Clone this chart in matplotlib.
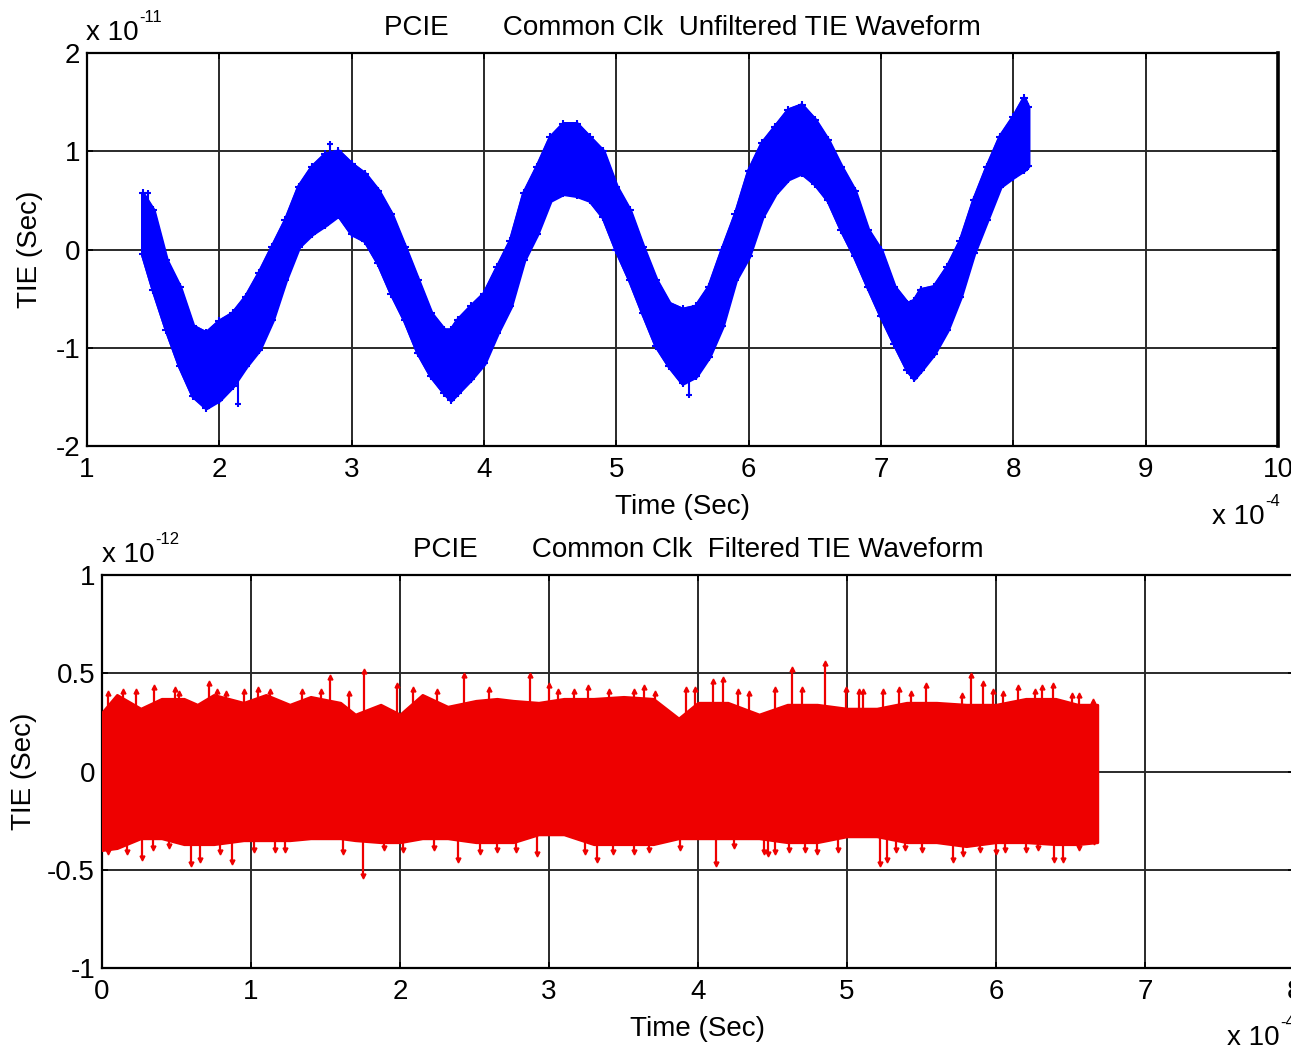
import matplotlib
matplotlib.use("Agg")
import matplotlib.pyplot as plt
import numpy as np

plt.rcParams['font.family'] = ['Liberation Sans', 'DejaVu Sans']
plt.rcParams['axes.unicode_minus'] = False

# ---------------- Data (display units: x * 1e-4 s, y * 1e-11 / 1e-12 s) ----
top_x = [1.42, 1.5, 1.6, 1.7, 1.8, 1.9, 2.0, 2.1, 2.2, 2.3, 2.4, 2.5, 2.6, 2.7,
         2.8, 2.9, 3.0, 3.1, 3.2, 3.3, 3.4, 3.5, 3.6, 3.7, 3.75, 3.8, 3.9, 4.0,
         4.1, 4.2, 4.3, 4.4, 4.5, 4.6, 4.7, 4.8, 4.9, 5.0, 5.1, 5.2, 5.3, 5.4,
         5.5, 5.6, 5.7, 5.8, 5.9, 6.0, 6.1, 6.2, 6.3, 6.4, 6.5, 6.6, 6.7, 6.8,
         6.9, 7.0, 7.1, 7.2, 7.25, 7.3, 7.4, 7.5, 7.6, 7.7, 7.8, 7.9, 8.0, 8.08, 8.11]
top_upper = [0.57, 0.40, -0.11, -0.38, -0.78, -0.85, -0.73, -0.65, -0.48, -0.24,
             0.03, 0.30, 0.64, 0.84, 0.97, 1.00, 0.87, 0.77, 0.60, 0.36, 0.03,
             -0.31, -0.65, -0.82, -0.82, -0.72, -0.58, -0.45, -0.18, 0.09, 0.57,
             0.84, 1.14, 1.28, 1.28, 1.14, 1.00, 0.64, 0.40, 0.03, -0.31, -0.55,
             -0.61, -0.58, -0.38, 0.00, 0.36, 0.80, 1.08, 1.25, 1.42, 1.47, 1.32,
             1.11, 0.84, 0.60, 0.20, -0.01, -0.38, -0.55, -0.52, -0.41, -0.38,
             -0.18, 0.09, 0.50, 0.84, 1.15, 1.35, 1.54, 1.45]
top_lower = [-0.05, -0.41, -0.82, -1.19, -1.49, -1.61, -1.53, -1.39, -1.19, -1.02,
             -0.72, -0.31, 0.03, 0.16, 0.25, 0.35, 0.16, 0.09, -0.14, -0.45, -0.72,
             -1.05, -1.29, -1.46, -1.53, -1.46, -1.32, -1.16, -0.85, -0.58, -0.11,
             0.16, 0.50, 0.57, 0.55, 0.50, 0.33, -0.01, -0.31, -0.65, -0.98, -1.19,
             -1.36, -1.29, -1.09, -0.78, -0.31, -0.07, 0.33, 0.57, 0.72, 0.78, 0.67,
             0.50, 0.20, -0.07, -0.38, -0.68, -0.96, -1.23, -1.31, -1.23, -1.06,
             -0.82, -0.48, -0.04, 0.30, 0.64, 0.74, 0.81, 0.85]
top_spike_x = [2.14, 2.84, 5.55, 1.46]
top_spike_y = [-1.57, 1.07, -1.48, 0.57]

bot_x = [0, 0.1, 0.26, 0.4, 0.55, 0.64, 0.75, 0.95, 1.1, 1.26, 1.4, 1.6, 1.7,
         1.87, 2.0, 2.15, 2.32, 2.51, 2.65, 2.76, 2.93, 3.1, 3.3, 3.5, 3.7, 3.87,
         4.0, 4.2, 4.41, 4.6, 4.8, 5.0, 5.2, 5.4, 5.6, 5.8, 6.0, 6.2, 6.4, 6.55, 6.68]
bot_upper = [0.30, 0.39, 0.32, 0.37, 0.37, 0.34, 0.39, 0.35, 0.39, 0.34, 0.38,
             0.35, 0.29, 0.34, 0.29, 0.39, 0.33, 0.36, 0.37, 0.36, 0.35, 0.37,
             0.37, 0.38, 0.37, 0.27, 0.35, 0.35, 0.29, 0.34, 0.34, 0.32, 0.32,
             0.35, 0.35, 0.34, 0.34, 0.37, 0.37, 0.34, 0.34]
bot_lower = [-0.40, -0.39, -0.34, -0.34, -0.37, -0.37, -0.37, -0.35, -0.35, -0.35,
             -0.34, -0.34, -0.35, -0.36, -0.36, -0.34, -0.34, -0.36, -0.36, -0.36,
             -0.32, -0.32, -0.37, -0.37, -0.37, -0.34, -0.34, -0.34, -0.34, -0.36,
             -0.36, -0.33, -0.33, -0.36, -0.36, -0.38, -0.36, -0.36, -0.37, -0.37, -0.36]
bot_up_spike_x = [0.35, 0.72, 1.53, 1.76, 1.98, 2.43, 2.87, 3.0, 3.26, 3.64, 3.92,
                  4.10, 4.17, 4.63, 4.85, 4.99, 5.53, 5.83, 5.91, 6.15, 6.31, 6.38,
                  6.65, 0.04, 0.14, 0.23, 0.49, 0.52, 0.77, 0.83, 0.95, 1.05, 1.13,
                  1.34, 1.47, 1.66, 2.09, 2.25, 2.60, 3.06, 3.17, 3.40, 3.57, 3.71,
                  3.98, 4.27, 4.34, 4.52, 4.70, 5.08, 5.11, 5.24, 5.35, 5.43, 5.77,
                  5.98, 6.05, 6.26, 6.51, 6.56]
bot_up_spike_y = [0.43, 0.45, 0.48, 0.51, 0.44, 0.49, 0.49, 0.44, 0.43, 0.43, 0.42,
                  0.46, 0.47, 0.52, 0.55, 0.42, 0.44, 0.49, 0.45, 0.43, 0.43, 0.44,
                  0.36, 0.40, 0.41, 0.41, 0.42, 0.40, 0.41, 0.40, 0.41, 0.42, 0.41,
                  0.41, 0.41, 0.40, 0.42, 0.41, 0.42, 0.41, 0.41, 0.41, 0.41, 0.40,
                  0.42, 0.41, 0.40, 0.42, 0.42, 0.41, 0.41, 0.41, 0.42, 0.40, 0.39,
                  0.41, 0.40, 0.41, 0.39, 0.39]
bot_dn_spike_x = [0.04, 0.27, 0.60, 0.66, 0.87, 1.75, 2.39, 2.92, 3.32, 3.67, 4.12,
                  4.47, 4.94, 5.22, 5.27, 5.71, 6.0, 6.39, 6.45, 6.66, 0.17, 0.34,
                  0.45, 0.79, 1.02, 1.16, 1.23, 1.62, 1.89, 2.02, 2.23, 2.54, 2.65,
                  2.78, 3.24, 3.43, 3.57, 3.88, 4.24, 4.44, 4.52, 4.61, 4.72, 4.80,
                  5.33, 5.39, 5.50, 5.78, 5.89, 6.06, 6.20, 6.28, 6.56]
bot_dn_spike_y = [-0.41, -0.44, -0.47, -0.45, -0.46, -0.53, -0.45, -0.42, -0.45,
                  -0.40, -0.47, -0.42, -0.40, -0.47, -0.45, -0.45, -0.41, -0.45,
                  -0.45, -0.36, -0.41, -0.39, -0.38, -0.41, -0.40, -0.40, -0.40,
                  -0.41, -0.39, -0.40, -0.39, -0.41, -0.40, -0.40, -0.41, -0.41,
                  -0.41, -0.39, -0.38, -0.41, -0.41, -0.40, -0.40, -0.41, -0.40,
                  -0.39, -0.40, -0.42, -0.40, -0.40, -0.40, -0.39, -0.39]

top_xticks = [1, 2, 3, 4, 5, 6, 7, 8, 9, 10]
top_yticks = [-2, -1, 0, 1, 2]
bot_xticks = [0, 1, 2, 3, 4, 5, 6, 7, 8]
bot_yticks = [-1, -0.5, 0, 0.5, 1]
bot_yticklabels = ['-1', '-0.5', '0', '0.5', '1']

top_title = 'PCIE       Common Clk  Unfiltered TIE Waveform'
bot_title = 'PCIE       Common Clk  Filtered TIE Waveform'

BLUE = '#0000FF'
RED = '#EE0000'
FS = 20
W, H = 1291, 1050

fig = plt.figure(figsize=(W / 100, H / 100), dpi=100)
ax1 = fig.add_axes([87 / W, 1 - 446 / H, (1278 - 87) / W, (446 - 53) / H])
ax2 = fig.add_axes([102 / W, 1 - 968 / H, (1294 - 102) / W, (968 - 575) / H])

def style(ax, xt, yt, ytl=None):
    ax.set_xticks(xt)
    ax.set_yticks(yt)
    if ytl is not None:
        ax.set_yticklabels(ytl)
    ax.grid(True, color='#2a2a2a', linewidth=1.4, linestyle='-')
    ax.set_axisbelow(True)
    ax.tick_params(direction='in', length=4, width=1.2, labelsize=FS,
                   top=True, right=True)
    ax.tick_params(axis='x', pad=8)
    ax.tick_params(axis='y', pad=5)
    for s in ax.spines.values():
        s.set_linewidth(1.6)
        s.set_color('black')

# top
ax1.fill_between(top_x, top_lower, top_upper, color=BLUE, linewidth=3.0,
                 edgecolor=BLUE, zorder=3)
for env in (top_upper, top_lower):
    ax1.plot(top_x, env, color=BLUE, lw=2.5, marker='+', ms=6, mew=1.5, zorder=3)
ax1.vlines(top_spike_x, [0.5 * a for a in top_spike_y], top_spike_y,
           color=BLUE, linewidth=1.5, zorder=3)
ax1.plot(top_spike_x, top_spike_y, linestyle='none', marker='+', ms=5,
         mew=1.5, color=BLUE, zorder=3)
ax1.set_xlim(1, 10)
ax1.set_ylim(-2, 2)
style(ax1, top_xticks, top_yticks)
ax1.spines['right'].set_linewidth(2.6)
ax1.set_title(top_title, fontsize=FS, pad=13)
ax1.set_xlabel('Time (Sec)', fontsize=FS, labelpad=8)
ax1.set_ylabel('TIE (Sec)', fontsize=FS, labelpad=9)

# bottom
ax2.fill_between(bot_x, bot_lower, bot_upper, color=RED, linewidth=2.0,
                 edgecolor=RED, zorder=3)
ax2.vlines(bot_up_spike_x, 0, bot_up_spike_y, color=RED, linewidth=1.6, zorder=3)
ax2.vlines(bot_dn_spike_x, bot_dn_spike_y, 0, color=RED, linewidth=1.6, zorder=3)
ax2.plot(bot_up_spike_x, bot_up_spike_y, linestyle='none', marker='^', ms=3.5,
         color=RED, zorder=3)
ax2.plot(bot_dn_spike_x, bot_dn_spike_y, linestyle='none', marker='v', ms=3.5,
         color=RED, zorder=3)
ax2.set_xlim(0, 8)
ax2.set_ylim(-1, 1)
style(ax2, bot_xticks, bot_yticks, bot_yticklabels)
ax2.set_title(bot_title, fontsize=FS, pad=13)
ax2.set_xlabel('Time (Sec)', fontsize=FS, labelpad=8)
ax2.set_ylabel('TIE (Sec)', fontsize=FS, labelpad=7)

# exponent labels (MATLAB style: "x 10" with small raised exponent)
fig.canvas.draw()
renderer = fig.canvas.get_renderer()

def exp_label(px, py, exp):
    t = fig.text(px / W, 1 - py / H, 'x 10', fontsize=FS, ha='left', va='baseline')
    bb = t.get_window_extent(renderer=renderer)
    fig.text((bb.x1 + 1) / W, 1 - (py - 18) / H, exp, fontsize=12,
             ha='left', va='baseline')

exp_label(86, 40, '-11')
exp_label(1212, 524, '-4')
exp_label(102, 562, '-12')
exp_label(1227, 1045, '-4')

fig.savefig('out.png', dpi=100)
